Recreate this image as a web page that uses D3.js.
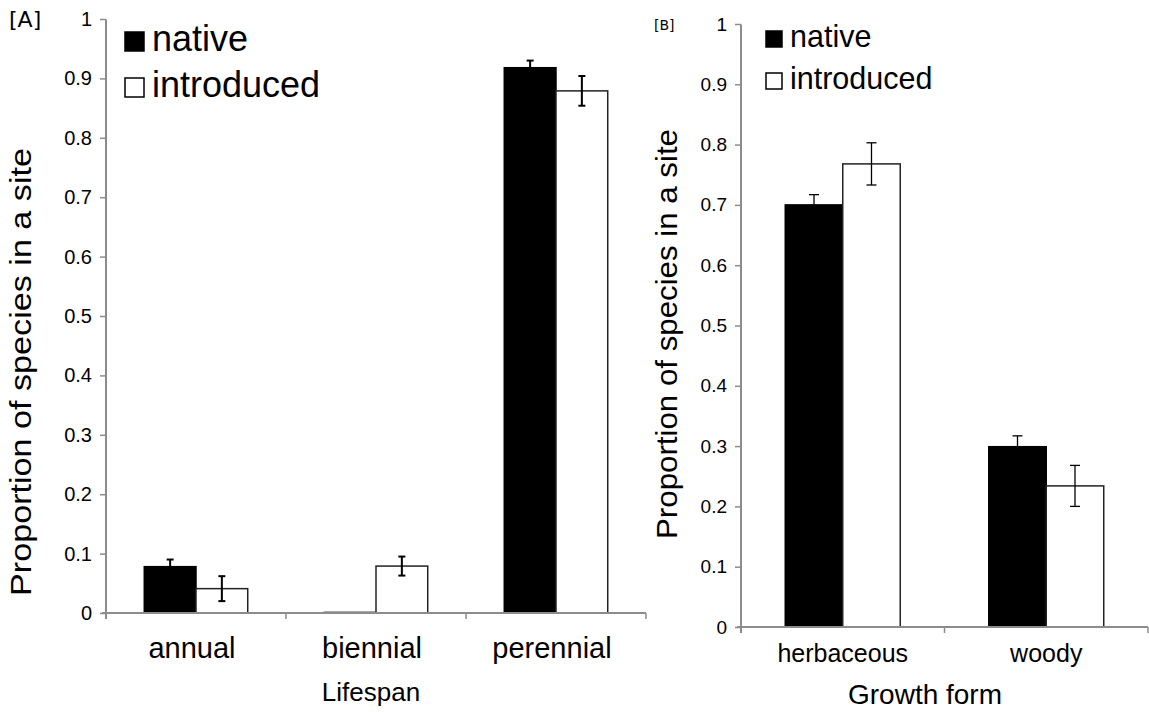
<!DOCTYPE html>
<html>
<head>
<meta charset="utf-8">
<script src="https://cdn.jsdelivr.net/npm/d3@7"></script>
<style>
  html, body { margin: 0; padding: 0; background: #fff; }
  svg { display: block; font-family: "Liberation Sans", Arial, sans-serif; }
</style>
</head>
<body>
<svg id="chart" width="1149" height="715"></svg>
<script>
// Panel A: lifespan
const lifespanCategories = ["annual", "biennial", "perennial"];
const lifespanNative = [0.078, 0.001, 0.918];
const lifespanNativeErr = [0.012, 0.0, 0.012];
const lifespanIntroduced = [0.041, 0.079, 0.879];
const lifespanIntroducedErr = [0.021, 0.016, 0.025];

// Panel B: growth form
const growthCategories = ["herbaceous", "woody"];
const growthNative = [0.700, 0.299];
const growthNativeErr = [0.017, 0.018];
const growthIntroduced = [0.768, 0.234];
const growthIntroducedErr = [0.035, 0.034];

const seriesNames = ["native", "introduced"];
const yTicks = [0, 0.1, 0.2, 0.3, 0.4, 0.5, 0.6, 0.7, 0.8, 0.9, 1];

const svg = d3.select("#chart");
const axisColor = "#8c8c8c";

function drawPanel(cfg) {
  const g = svg.append("g");
  const x = d3.scaleBand().domain(cfg.categories).range([cfg.x0, cfg.x1]);
  const xs = d3.scaleBand().domain(seriesNames).range([0, x.bandwidth()]).paddingOuter(cfg.outer);
  const y = d3.scaleLinear().domain([0, 1]).range([cfg.y0, cfg.y1]);

  const rows = [];
  cfg.categories.forEach((c, i) => {
    rows.push({ cat: c, s: "native", v: cfg.native[i], e: cfg.nativeErr[i] });
    rows.push({ cat: c, s: "introduced", v: cfg.introduced[i], e: cfg.introducedErr[i] });
  });

  // y axis
  const yAxis = g.append("g")
    .attr("transform", `translate(${cfg.x0},0)`)
    .call(d3.axisLeft(y).tickValues(yTicks).tickSize(6).tickPadding(cfg.tickPad)
      .tickFormat(d => d === 0 ? "0" : d === 1 ? "1" : d3.format(".1f")(d)));
  yAxis.select(".domain").attr("stroke", axisColor).attr("stroke-width", 2)
    .attr("d", `M0,${y(1) + 0.5}V${cfg.y0 + 6}`);
  yAxis.selectAll(".tick line").attr("stroke", axisColor).attr("stroke-width", 1.5);
  yAxis.selectAll(".tick text").attr("fill", "#000").style("font-size", cfg.tickFont + "px")
    .style("font-family", "'Liberation Sans', Arial, sans-serif");

  // bars
  g.selectAll("rect.bar").data(rows).join("rect")
    .attr("class", "bar")
    .attr("x", d => x(d.cat) + xs(d.s))
    .attr("y", d => y(d.v))
    .attr("width", xs.bandwidth())
    .attr("height", d => y(0) - y(d.v))
    .attr("fill", d => d.s === "native" ? "#000" : "#fff")
    .attr("stroke", d => d.s === "native" ? "#000" : "#222")
    .attr("stroke-width", cfg.barStroke);

  // error bars
  const eb = g.selectAll("g.err").data(rows.filter(d => d.e > 0)).join("g").attr("class", "err");
  const cx = d => x(d.cat) + xs(d.s) + xs.bandwidth() / 2;
  eb.append("line")
    .attr("x1", cx).attr("x2", cx)
    .attr("y1", d => y(d.v + d.e)).attr("y2", d => y(d.v - d.e))
    .attr("stroke", "#000").attr("stroke-width", cfg.errStroke);
  [1, -1].forEach(sign => {
    eb.append("line")
      .attr("x1", d => cx(d) - cfg.cap).attr("x2", d => cx(d) + cfg.cap)
      .attr("y1", d => y(d.v + sign * d.e)).attr("y2", d => y(d.v + sign * d.e))
      .attr("stroke", "#000").attr("stroke-width", cfg.errStroke);
  });

  // x axis with ticks at category boundaries
  const xAxis = g.append("g").attr("transform", `translate(0,${cfg.y0})`);
  xAxis.append("line").attr("x1", cfg.x0 - 4).attr("x2", cfg.x1)
    .attr("stroke", axisColor).attr("stroke-width", 2);
  const bounds = cfg.categories.map(c => x(c)).concat([cfg.x1]);
  xAxis.selectAll("line.tk").data(bounds).join("line").attr("class", "tk")
    .attr("x1", d => d).attr("x2", d => d).attr("y1", 0).attr("y2", 6)
    .attr("stroke", axisColor).attr("stroke-width", 1.5);
  xAxis.selectAll("text").data(cfg.categories).join("text")
    .attr("x", d => x(d) + x.bandwidth() / 2 + cfg.catShift)
    .attr("y", cfg.catLabelY - cfg.y0)
    .attr("text-anchor", "middle")
    .style("font-size", cfg.catFont + "px")
    .text(d => d);

  // axis titles
  g.append("text")
    .attr("x", cfg.xTitleX).attr("y", cfg.xTitleY)
    .attr("text-anchor", "middle").style("font-size", cfg.titleFont + "px")
    .text(cfg.xTitle);
  g.append("text")
    .attr("transform", `translate(${cfg.yTitleX},${cfg.yTitleY}) rotate(-90)`)
    .attr("text-anchor", "middle").style("font-size", cfg.yTitleFont + "px")
    .attr("textLength", cfg.yTitleLen).attr("lengthAdjust", "spacingAndGlyphs")
    .text("Proportion of species in a site");

  // panel tag
  g.append("text").attr("x", cfg.tagX).attr("y", cfg.tagY)
    .style("font-size", cfg.tagFont + "px").attr("font-family", "'DejaVu Sans', sans-serif")
    .text(cfg.tag);

  // legend
  const lg = g.append("g");
  seriesNames.forEach((s, i) => {
    const ly = cfg.legY + i * cfg.legStep;
    lg.append("rect")
      .attr("x", cfg.legX).attr("y", ly - cfg.legBox)
      .attr("width", cfg.legBox).attr("height", cfg.legBox)
      .attr("fill", s === "native" ? "#000" : "#fff")
      .attr("stroke", "#000").attr("stroke-width", 1.5);
    lg.append("text")
      .attr("x", cfg.legTextX).attr("y", ly)
      .style("font-size", cfg.legFont + "px")
      .text(s);
  });
}

drawPanel({
  categories: lifespanCategories,
  native: lifespanNative, nativeErr: lifespanNativeErr,
  introduced: lifespanIntroduced, introducedErr: lifespanIntroducedErr,
  x0: 106, x1: 646, y0: 613, y1: 19, outer: 0.74,
  tickFont: 20, tickPad: 8, barStroke: 1.5, errStroke: 2, cap: 3.5,
  catFont: 29, catShift: -4, catLabelY: 658, titleFont: 26, xTitle: "Lifespan", xTitleX: 371, xTitleY: 701,
  yTitleX: 31, yTitleY: 372, yTitleFont: 30, yTitleLen: 448,
  tag: "[A]", tagX: 9, tagY: 27, tagFont: 22,
  legX: 125, legY: 51, legStep: 46, legBox: 19, legTextX: 152, legFont: 36
});

drawPanel({
  categories: growthCategories,
  native: growthNative, nativeErr: growthNativeErr,
  introduced: growthIntroduced, introducedErr: growthIntroducedErr,
  x0: 741, x1: 1148, y0: 627, y1: 24, outer: 0.77,
  tickFont: 19, tickPad: 8, barStroke: 1.5, errStroke: 1.3, cap: 5,
  catFont: 25, catShift: 0, catLabelY: 662, titleFont: 28, xTitle: "Growth form", xTitleX: 925, xTitleY: 704,
  yTitleX: 677, yTitleY: 334, yTitleFont: 29, yTitleLen: 410,
  tag: "[B]", tagX: 654, tagY: 30, tagFont: 14,
  legX: 766, legY: 47, legStep: 42, legBox: 16, legTextX: 790, legFont: 30.5
});
</script>
</body>
</html>
